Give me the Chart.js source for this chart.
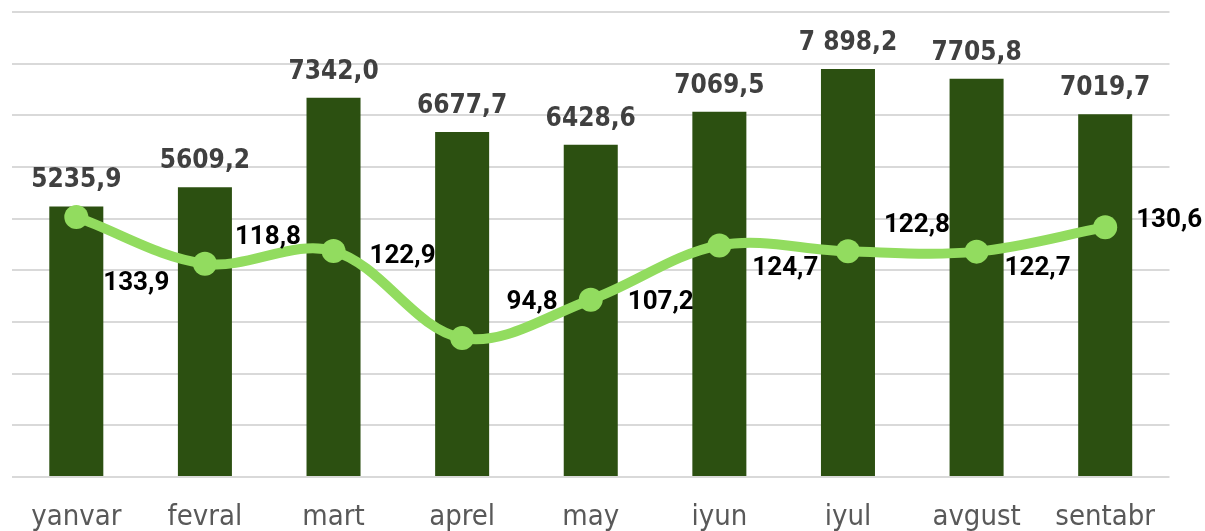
<!DOCTYPE html>
<html>
<head>
<meta charset="utf-8">
<script src="https://cdn.jsdelivr.net/npm/chart.js@4.4.1/dist/chart.umd.min.js"></script>
<style>
  html, body { margin: 0; padding: 0; background: #ffffff; overflow: hidden; }
  #wrap { width: 1205px; height: 531px; overflow: hidden; }
</style>
</head>
<body>
<div id="wrap"><canvas id="c" width="1205" height="531"></canvas></div>
<script>
// ---- data ----
const categories = ['yanvar', 'fevral', 'mart', 'aprel', 'may', 'iyun', 'iyul', 'avgust', 'sentabr'];
const barValues = [5235.9, 5609.2, 7342.0, 6677.7, 6428.6, 7069.5, 7898.2, 7705.8, 7019.7];
const barLabelText = ['5235,9', '5609,2', '7342,0', '6677,7', '6428,6', '7069,5', '7 898,2', '7705,8', '7019,7'];
const lineValues = [133.9, 118.8, 122.9, 94.8, 107.2, 124.7, 122.8, 122.7, 130.6];

// ---- label placement (style) ----
const lineLabelDX = [60, 63, 69, 70, 70, 66, 69, 61, 64];
const lineLabelDY = [67, -26, 5, -36, 3, 23, -26, 17, -7];

const BAR_COLOR = '#2c5011';
const LINE_COLOR = '#92dc5f';

const labelPlugin = {
  id: 'valueLabels',
  afterDatasetsDraw(chart) {
    const ctx = chart.ctx;
    ctx.save();
    // bar labels
    const barMeta = chart.getDatasetMeta(0);
    ctx.font = 'bold 26px "DejaVu Sans Condensed", "DejaVu Sans", sans-serif';
    ctx.fillStyle = '#404040';
    ctx.textAlign = 'center';
    ctx.textBaseline = 'alphabetic';
    barMeta.data.forEach((el, i) => {
      ctx.fillText(barLabelText[i], el.x, el.y - 19);
    });
    // line labels
    const lineMeta = chart.getDatasetMeta(1);
    ctx.font = 'bold 26px Roboto, sans-serif';
    ctx.fillStyle = '#000000';
    ctx.textBaseline = 'middle';
    lineMeta.data.forEach((el, i) => {
      const txt = lineValues[i].toFixed(1).replace('.', ',');
      ctx.fillText(txt, el.x + lineLabelDX[i], el.y + lineLabelDY[i]);
    });
    ctx.restore();
  }
};

new Chart(document.getElementById('c'), {
  data: {
    labels: categories,
    datasets: [
      {
        type: 'bar',
        data: barValues,
        backgroundColor: BAR_COLOR,
        borderWidth: 0,
        barPercentage: 0.42,
        categoryPercentage: 1.0,
        yAxisID: 'y',
        order: 2
      },
      {
        type: 'line',
        data: lineValues,
        borderColor: LINE_COLOR,
        backgroundColor: LINE_COLOR,
        borderWidth: 10,
        borderCapStyle: 'round',
        pointRadius: 12,
        pointBackgroundColor: LINE_COLOR,
        pointBorderWidth: 0,
        tension: 0.35,
        yAxisID: 'y1',
        order: 1
      }
    ]
  },
  options: {
    responsive: false,
    devicePixelRatio: 1,
    animation: false,
    layout: { padding: { top: 6, left: -0.5, right: 35.5, bottom: -18.8 } },
    plugins: { legend: { display: false }, tooltip: { enabled: false } },
    scales: {
      x: {
        grid: { display: false },
        border: { display: false },
        ticks: {
          color: '#595959',
          font: { family: '"DejaVu Sans Condensed", "DejaVu Sans", sans-serif', size: 29 },
          padding: 15
        }
      },
      y: {
        min: 0,
        max: 9000,
        ticks: { stepSize: 1000, display: false },
        grid: { color: '#d9d9d9', lineWidth: 2, drawTicks: false },
        border: { display: false }
      },
      y1: {
        display: false,
        min: 50,
        max: 200
      }
    }
  },
  plugins: [labelPlugin]
});
</script>
</body>
</html>
